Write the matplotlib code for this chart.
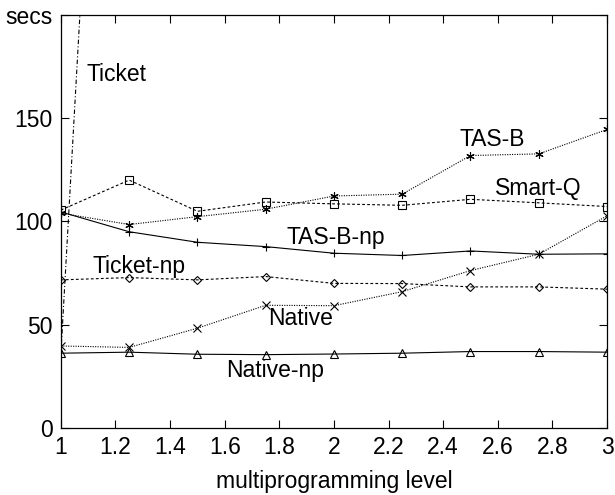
import numpy as np
import matplotlib
matplotlib.use('Agg')
import matplotlib.pyplot as plt

plt.rcParams['font.family'] = ['Liberation Sans', 'DejaVu Sans']

# niveaux de multiprogrammation
level = [1, 1.25, 1.5, 1.75, 2, 2.25, 2.5, 2.75, 3]

# temps (secs)
tas_b     = [104, 98.5, 102.3, 105.9, 112.3, 113.2, 131.9, 132.7, 144.5]
smart_q   = [105.5, 120, 104.9, 109.4, 108.5, 107.8, 110.7, 109, 107.2]
tas_b_np  = [104.6, 95, 89.9, 87.8, 84.6, 83.5, 85.7, 84.1, 84.3]
ticket_np = [71.7, 72.8, 71.7, 73.3, 70, 69.9, 68.3, 68.3, 67.2]
native    = [39.7, 39, 48.3, 59.4, 59.2, 66, 76.2, 84.1, 102.7]
native_np = [36.2, 36.7, 35.7, 35.5, 35.8, 36.2, 37, 37, 36.7]
ticket_x  = [1, 1.25]
ticket    = [36, 625]

fig = plt.figure(figsize=(6.15, 4.95), dpi=100)
ax = fig.add_axes([0.099, 0.1354, 0.888, 0.8346])

k = dict(color='black', lw=0.8, mfc='none', mec='black', mew=0.8)
ax.plot(ticket_x, ticket, dashes=(4, 2, 1, 2), color='black', lw=0.8)
ax.plot(level, tas_b, marker=(6, 2, 0), ms=6, dashes=(1, 1.2), **k)
ax.plot(level, smart_q, marker='s', ms=5.5, dashes=(2.5, 2), **k)
ax.plot(level, tas_b_np, marker='+', ms=6, ls='-', **k)
ax.plot(level, ticket_np, marker='D', ms=4, dashes=(2.5, 2), **k)
ax.plot(level, native, marker='x', ms=5.5, dashes=(1, 1.2), **k)
ax.plot(level, native_np, marker='^', ms=5.5, ls='-', **k)

fs = 16.5
ax.text(1.095, 171, 'Ticket', fontsize=fs, va='center')
ax.text(2.46, 139.5, 'TAS-B', fontsize=fs, va='center')
ax.text(2.59, 115.7, 'Smart-Q', fontsize=fs, va='center')
ax.text(1.828, 92, 'TAS-B-np', fontsize=fs, va='center')
ax.text(1.114, 78, 'Ticket-np', fontsize=fs, va='center')
ax.text(1.758, 52.8, 'Native', fontsize=fs, va='center')
ax.text(1.604, 28, 'Native-np', fontsize=fs, va='center')

ax.set_xlim(1, 3)
ax.set_ylim(0, 200)
ax.set_xticks(np.arange(1, 3.01, 0.2))
ax.set_xticklabels(['1', '1.2', '1.4', '1.6', '1.8', '2', '2.2', '2.4', '2.6', '2.8', '3'])
ax.set_yticks([0, 50, 100, 150, 200])
ax.set_yticklabels(['0', '50', '100', '150', 'secs'])
ax.tick_params(direction='in', top=True, right=True, length=6, width=0.8,
               labelsize=fs, pad=6)
ax.set_xlabel('multiprogramming level', fontsize=fs, labelpad=8)
for s in ax.spines.values():
    s.set_linewidth(0.9)

fig.savefig('out.png', dpi=100)
